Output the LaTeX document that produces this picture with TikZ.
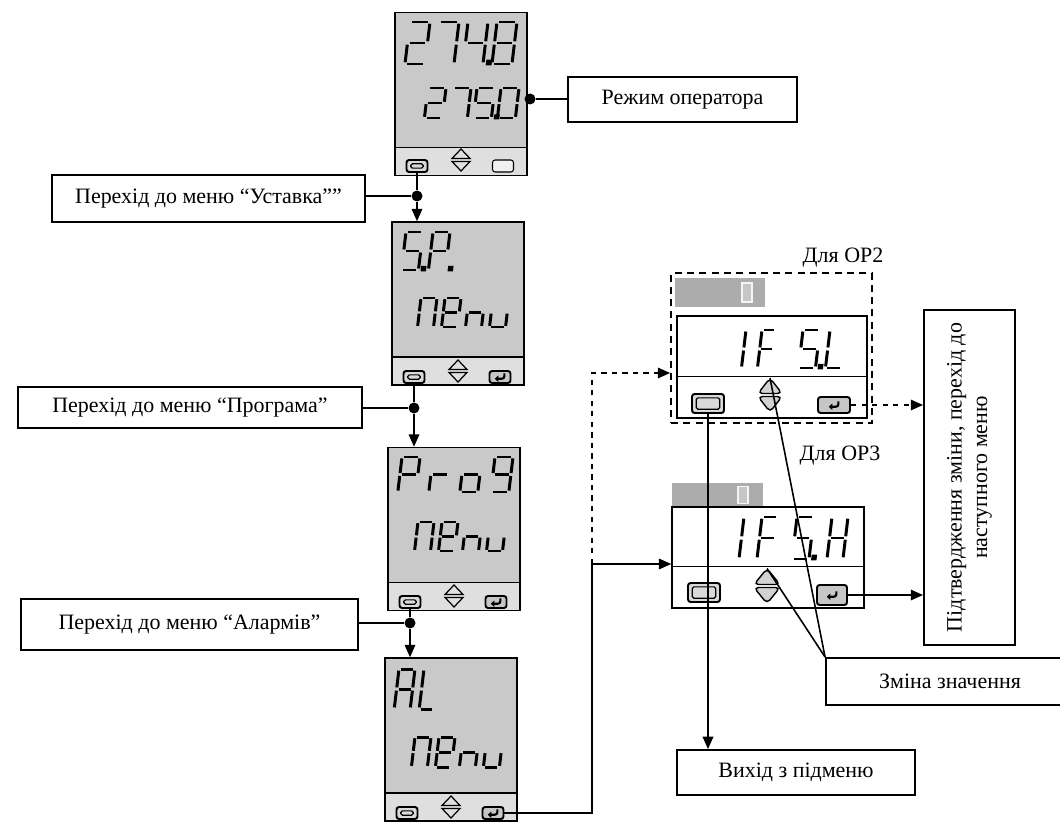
\documentclass[tikz,border=0pt]{standalone}
\usepackage{fontspec}
\setmainfont{Liberation Serif}
\usetikzlibrary{arrows.meta}

% segments of one digit cell (width 1, height 2, y runs down)
\newcommand{\lcdsega}{(0.12,0) -- (0.88,0)}
\newcommand{\lcdsegb}{(1,0.08) -- (1,0.92)}
\newcommand{\lcdsegc}{(1,1.08) -- (1,1.92)}
\newcommand{\lcdsegd}{(0.12,2) -- (0.88,2)}
\newcommand{\lcdsege}{(0,1.08) -- (0,1.92)}
\newcommand{\lcdsegf}{(0,0.08) -- (0,0.92)}
\newcommand{\lcdsegg}{(0.12,1) -- (0.88,1)}
\newcommand{\lcdsegp}{(1.22,1.86) rectangle (1.36,2)}

% one seven-segment digit: x, y (top left), width, height, segments
\newcommand{\lcd}[5]{%
  \begin{scope}[shift={(#1,#2)}, xslant=0.12, xscale=#3, yscale=#4/2]
    \foreach \s in {#5} {\draw[lcdseg] \csname lcdseg\s\endcsname;}
  \end{scope}}

% up/down key: name (top point), x, y, width, height, style
\newcommand{\updn}[6]{%
  \coordinate (#1) at (#2,#3-#5/2);
  \draw[#6] (#2,#3-#5/2) -- (#2+#4/2,#3-1.5) -- (#2-#4/2,#3-1.5) -- cycle;
  \draw[#6] (#2,#3+#5/2) -- (#2+#4/2,#3+1.5) -- (#2-#4/2,#3+1.5) -- cycle;}

\begin{document}
\begin{tikzpicture}[x=0.02cm, y=-0.02cm,
  every node/.style={font=\fontsize{12.5}{14.5}\selectfont},
  lbox/.style={draw, line width=1.1pt, inner sep=2pt},
  conn/.style={line width=0.9pt},
  arr/.style={-{Triangle[length=7pt,width=6pt]}},
  jdot/.style={circle, fill, inner sep=0, minimum size=0.22cm},
  lcdseg/.style={line width=1.7pt},
  lcdbody/.style={draw, line width=0.9pt, fill=gray!42, inner sep=0,
    minimum width=2.64cm, minimum height=3.26cm,
    path picture={
      \fill[gray!25] (path picture bounding box.south west) rectangle ([yshift=0.56cm]path picture bounding box.south east);
      \draw[line width=0.9pt] ([yshift=0.56cm]path picture bounding box.south west) -- ([yshift=0.56cm]path picture bounding box.south east);}},
  oppanel/.style={draw, line width=0.9pt, fill=white, inner sep=0,
    path picture={
      \draw[line width=0.9pt] ([yshift=0.83cm]path picture bounding box.south west) -- ([yshift=0.83cm]path picture bounding box.south east);}},
  opframe/.style={draw, line width=1pt, dash pattern=on 4pt off 3pt, inner sep=0},
  minidisp/.style={fill=gray!65, inner sep=0},
  zerobox/.style={draw=gray!8, line width=1pt, fill=gray!45, inner sep=0, minimum width=0.2cm, minimum height=0.38cm},
  escbtn/.style={draw, line width=1.1pt, rounded corners=1.5pt, fill=gray!30, inner sep=0,
    path picture={
      \draw[line width=0.7pt, rounded corners=1pt] ([shift={(2.4pt,2.2pt)}]path picture bounding box.south west) rectangle ([shift={(-2.4pt,-2.2pt)}]path picture bounding box.north east);}},
  entbtn/.style={draw, line width=1.1pt, rounded corners=1.5pt, fill=gray!45, inner sep=0,
    path picture={
      \draw[line width=1.2pt, -{Triangle[length=2pt,width=3.5pt]}] ([shift={(2.5pt,2pt)}]path picture bounding box.center) -- ([shift={(2.5pt,-1pt)}]path picture bounding box.center) -- ([shift={(-3pt,-1pt)}]path picture bounding box.center);}},
  keybtn/.style={draw, line width=0.6pt, rounded corners=1.5pt, fill=gray!12, inner sep=0},
  udthin/.style={line width=0.7pt},
  udfat/.style={draw, fill=gray!35, line width=0.8pt, rounded corners=2.5pt}]

  \useasboundingbox (0,0) rectangle (1060,827);
  \clip (0,0) rectangle (1060,827);
  \fill[white] (0,0) rectangle (1060,827);

  % Operator mode panel
  \node[lcdbody] (p1) at (461,94) {};
  \lcd{410}{22}{20}{42}{a,b,g,e,d}
  \lcd{439}{22}{20}{42}{a,b,c}
  \lcd{468}{22}{20}{42}{f,g,b,c,p}
  \lcd{497}{22}{20}{42}{a,b,c,d,e,f,g}
  \lcd{428}{88}{18}{30}{a,b,g,e,d}
  \lcd{453}{88}{18}{30}{a,b,c}
  \lcd{477}{88}{18}{30}{a,f,g,c,d,p}
  \lcd{501}{88}{18}{30}{a,b,c,d,e,f}
  \node[escbtn, minimum width=0.42cm, minimum height=0.24cm] (p1esc) at (417,166) {};
  \updn{p1ud}{461}{160}{18}{22}{udthin}
  \node[keybtn, minimum width=0.42cm, minimum height=0.24cm] (p1key) at (503,166) {};

  % Set point menu panel
  \node[lcdbody] (p2) at (458,303.5) {};
  \lcd{406}{232}{17}{38}{a,f,g,c,d,p}
  \lcd{433}{232}{17}{38}{a,b,e,f,g,p}
  \lcd{421}{298}{16}{29}{a,b,c,e,f}
  \lcd{445}{298}{16}{29}{a,b,d,e,f,g}
  \lcd{469}{298}{16}{29}{c,e,g}
  \lcd{493}{298}{16}{29}{c,d,e}
  \node[escbtn, minimum width=0.42cm, minimum height=0.24cm] (p2esc) at (414,377) {};
  \updn{p2ud}{458}{371}{18}{22}{udthin}
  \node[entbtn, minimum width=0.42cm, minimum height=0.24cm] (p2ent) at (500,377) {};

  % Programme menu panel
  \node[lcdbody] (p3) at (454,529) {};
  \lcd{402}{457}{18}{35}{a,b,e,f,g}
  \lcd{433}{457}{18}{35}{e,g}
  \lcd{464}{457}{18}{35}{c,d,e,g}
  \lcd{495}{457}{18}{35}{a,b,c,d,f,g}
  \lcd{418}{522}{16}{29}{a,b,c,e,f}
  \lcd{442}{522}{16}{29}{a,b,d,e,f,g}
  \lcd{466}{522}{16}{29}{c,e,g}
  \lcd{490}{522}{16}{29}{c,d,e}
  \node[escbtn, minimum width=0.42cm, minimum height=0.24cm] (p3esc) at (410,602) {};
  \updn{p3ud}{454}{596}{18}{22}{udthin}
  \node[entbtn, minimum width=0.42cm, minimum height=0.24cm] (p3ent) at (496,602) {};

  % Alarm menu panel
  \node[lcdbody] (p4) at (451,739.5) {};
  \lcd{399}{669}{16}{40}{a,b,c,e,f,g}
  \lcd{424}{669}{14}{40}{d,e,f}
  \lcd{415}{737}{16}{30}{a,b,c,e,f}
  \lcd{439}{737}{16}{30}{a,b,d,e,f,g}
  \lcd{463}{737}{16}{30}{c,e,g}
  \lcd{487}{737}{16}{30}{c,d,e}
  \node[escbtn, minimum width=0.42cm, minimum height=0.24cm] (p4esc) at (407,813) {};
  \updn{p4ud}{451}{807}{18}{22}{udthin}
  \node[entbtn, minimum width=0.42cm, minimum height=0.24cm] (p4ent) at (493,813) {};

  % Labels on the left
  \node[lbox, minimum width=4.58cm, minimum height=0.9cm] (l0) at (682.5,99.5) {Режим оператора};
  \node[lbox, minimum width=6.26cm, minimum height=0.94cm] (l1) at (208.5,198.5) {Перехід до меню “Уставка””};
  \node[lbox, minimum width=6.88cm, minimum height=0.82cm] (l2) at (190,407.5) {Перехід до меню “Програма”};
  \node[lbox, minimum width=6.74cm, minimum height=1.02cm] (l3) at (189.5,624.5) {Перехід до меню “Алармів”};

  % Junctions and key connectors
  \node[jdot] (j0) at (530,99) {};
  \node[jdot] (j1) at (417,196) {};
  \node[jdot] (j2) at (414,408) {};
  \node[jdot] (j3) at (410,623) {};
  \draw[conn] (j0) -- (l0.west |- j0);
  \draw[conn, arr] (p1esc.south) -- (j1) -- (p2.north -| j1);
  \draw[conn, arr] (p2esc.south) -- (j2) -- (p3.north -| j2);
  \draw[conn, arr] (p3esc.south) -- (j3) -- (p4.north -| j3);
  \draw[conn] (l1.east |- j1) -- (j1);
  \draw[conn] (l2.east |- j2) -- (j2);
  \draw[conn] (l3.east |- j3) -- (j3);

  % For OP2
  \node (t2) at (843,258) {Для OP2};
  \node[opframe, minimum width=4.02cm, minimum height=3.0cm] (op2box) at (771.5,348) {};
  \node[minidisp, minimum width=1.8cm, minimum height=0.58cm] (op2mini) at (720,292.5) {};
  \node[zerobox] (op2zero) at (747,292.5) {};
  \node[oppanel, minimum width=3.8cm, minimum height=2.04cm] (op2) at (772,367) {};
  \lcd{731}{330}{15}{38}{b,c}
  \lcd{762}{330}{14}{38}{a,e,f,g}
  \lcd{803}{330}{17}{38}{a,f,g,c,d,p}
  \lcd{830}{330}{16}{38}{d,e,f}
  \node[escbtn, minimum width=0.64cm, minimum height=0.38cm] (op2esc) at (708,403.5) {};
  \updn{op2ud}{770}{395}{24}{34}{udfat}
  \node[entbtn, minimum width=0.64cm, minimum height=0.32cm] (op2ent) at (834,405) {};

  % For OP3
  \node (t3) at (840,456) {Для OP3};
  \node[minidisp, minimum width=1.82cm, minimum height=0.5cm] (op3mini) at (717.5,495) {};
  \node[zerobox, minimum height=0.34cm] (op3zero) at (743,495) {};
  \node[oppanel, minimum width=3.84cm, minimum height=2.02cm] (op3) at (768,557.5) {};
  \lcd{728}{517}{16}{42}{b,c}
  \lcd{762}{517}{16}{42}{a,e,f,g}
  \lcd{797}{517}{17}{42}{a,f,g,c,d,p}
  \lcd{832}{517}{16}{42}{b,c,e,f,g}
  \node[escbtn, minimum width=0.64cm, minimum height=0.38cm] (op3esc) at (704,592.5) {};
  \updn{op3ud}{767}{586}{26}{35}{udfat}
  \node[entbtn, minimum width=0.6cm, minimum height=0.4cm] (op3ent) at (832,595) {};

  % Labels on the right
  \node[lbox, minimum width=1.82cm, minimum height=6.7cm] (l4) at (969.5,477.5) {};
  \node[rotate=90, align=center] (l4txt) at (l4) {Підтвердження зміни, перехід до\\наступного меню};
  \node[lbox, minimum width=4.96cm, minimum height=0.94cm] (l5) at (950,681.5) {Зміна значення};
  \node[lbox, minimum width=4.76cm, minimum height=0.9cm] (l6) at (796,772.5) {Вихід з підменю};

  % Into the submenu
  \coordinate (fork) at (592,564);
  \coordinate (forkup) at (592,373);
  \draw[conn, arr] (p4ent.east) -| (fork) -- (op3.west |- fork);
  \draw[conn, dashed, arr] (fork) -- (forkup) -- (op2box.west |- forkup);

  % Keys of the submenu
  \draw[conn, arr] (op2esc.south) -- (l6.north -| op2esc);
  \draw[conn] (l5.north west) -- (op2ud);
  \draw[conn] (l5.north west) -- (op3ud);
  \draw[conn, dashed, arr] (op2ent.east) -- (l4.west |- op2ent);
  \draw[conn, arr] (op3ent.east) -- (l4.west |- op3ent);

\end{tikzpicture}
\end{document}
